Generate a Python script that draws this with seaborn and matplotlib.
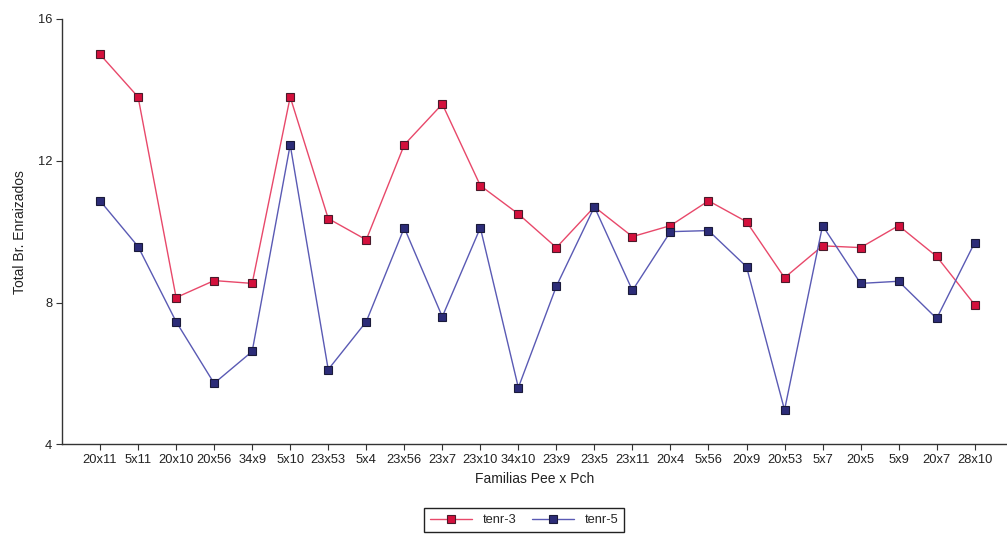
import matplotlib
matplotlib.use("Agg")
import matplotlib.pyplot as plt
import seaborn as sns
import pandas as pd

familias = ["20x11", "5x11", "20x10", "20x56", "34x9", "5x10", "23x53", "5x4",
            "23x56", "23x7", "23x10", "34x10", "23x9", "23x5", "23x11", "20x4",
            "5x56", "20x9", "20x53", "5x7", "20x5", "5x9", "20x7", "28x10"]
tenr3 = [15.0, 13.8, 8.14, 8.62, 8.54, 13.8, 10.37, 9.77, 12.45, 13.6, 11.3, 10.5,
         9.55, 10.7, 9.86, 10.17, 10.87, 10.28, 8.70, 9.6, 9.55, 10.17, 9.3, 7.94]
tenr5 = [10.87, 9.58, 7.46, 5.72, 6.62, 12.45, 6.11, 7.46, 10.11, 7.6, 10.11, 5.6,
         8.46, 10.7, 8.34, 10.0, 10.03, 9.01, 4.97, 10.17, 8.54, 8.6, 7.55, 9.69]
y_ticks = [4, 8, 12, 16]

sns.set_theme(style="white")
plt.rcParams["font.family"] = ["Liberation Sans", "DejaVu Sans"]

df = pd.DataFrame({"familia": familias, "tenr-3": tenr3, "tenr-5": tenr5})
df["pos"] = range(len(familias))

fig = plt.figure(figsize=(10.07, 5.35), dpi=100)
ax = fig.add_axes([0.0616, 0.1695, 0.9384, 0.795])

sns.lineplot(data=df, x="pos", y="tenr-3", ax=ax, color="#e8486a", linewidth=1.0,
             marker="s", markersize=6, markerfacecolor="#d4103c",
             markeredgecolor="#4a1a2a", markeredgewidth=0.8, label="tenr-3")
sns.lineplot(data=df, x="pos", y="tenr-5", ax=ax, color="#5a5ab4", linewidth=1.0,
             marker="s", markersize=6, markerfacecolor="#2c2c78",
             markeredgecolor="#1a1a3a", markeredgewidth=0.8, label="tenr-5")

ax.set_xlim(-1.0, 23.85)
ax.set_ylim(4, 16)
ax.set_xticks(df["pos"])
ax.set_xticklabels(familias, fontsize=9.3, color="#222222")
ax.set_yticks(y_ticks)
ax.set_yticklabels([str(t) for t in y_ticks], fontsize=9.3, color="#222222")
ax.tick_params(axis="both", direction="out", length=4, width=0.8, color="#333333",
               bottom=True, left=True, pad=3)

for side in ["top", "right"]:
    ax.spines[side].set_visible(False)
for side in ["left", "bottom"]:
    ax.spines[side].set_color("#333333")
    ax.spines[side].set_linewidth(1.0)

ax.set_xlabel("Familias Pee x Pch", fontsize=10, color="#222222", labelpad=4)
ax.set_ylabel("Total Br. Enraizados", fontsize=10, color="#222222", labelpad=8)

leg = ax.legend(loc="center", bbox_to_anchor=(524 / 1007, 1 - 520 / 535),
                bbox_transform=fig.transFigure, ncol=2, fontsize=9.3,
                frameon=True, fancybox=False, framealpha=1, edgecolor="#222222",
                handlelength=3.3, handletextpad=0.8, columnspacing=1.2,
                borderpad=0.45, borderaxespad=0)
leg.get_frame().set_linewidth(1.0)

fig.savefig("out.png", dpi=100, facecolor="white")
